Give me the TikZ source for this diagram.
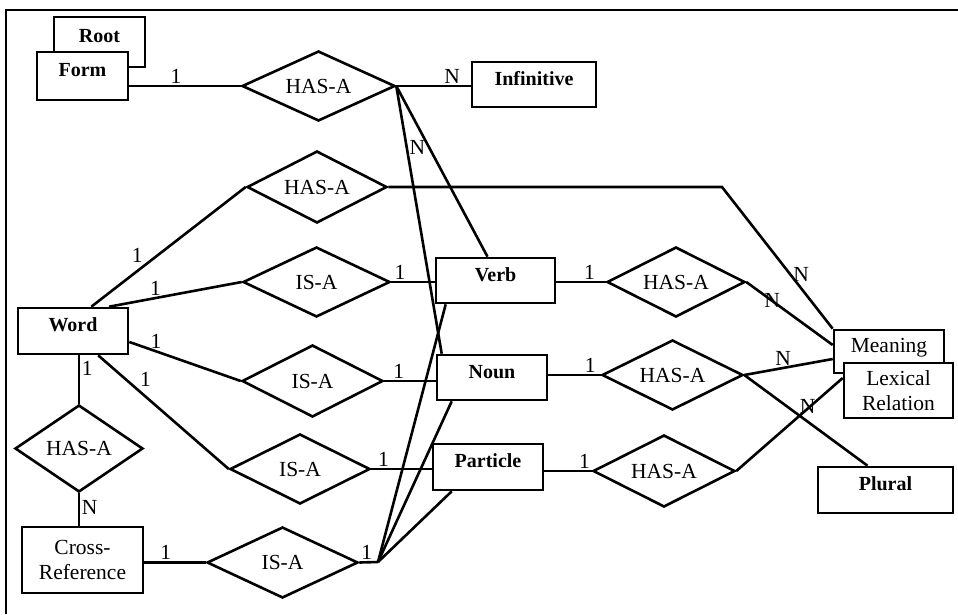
\documentclass[tikz,border=0pt]{standalone}
\usepackage{fontspec}
\setmainfont{Liberation Serif}
\usetikzlibrary{shapes.geometric}
\begin{document}
\begin{tikzpicture}[x=1pt, y=-1pt, line width=2.6pt,
  every node/.style={font=\fontsize{21.5}{25}\selectfont},
  ent/.style={draw, fill=white, inner sep=0pt, text depth=12pt},
  entb/.style={ent, font=\fontsize{20}{24}\selectfont\bfseries},
  entm/.style={draw, fill=white, inner sep=0pt, align=center},
  rel/.style={draw, diamond, shape aspect=2, inner sep=0pt},
  card/.style={inner sep=1.5pt}]
  \useasboundingbox (0,0) rectangle (958,614);
  \draw (6,614) -- (6,10) -- (958,10);
  \node[entb, minimum width=91, minimum height=50] (root) at (99.5,42) {Root};
  \node[entb, minimum width=91, minimum height=48] (form) at (82.5,76) {Form};
  \node[entb, minimum width=124, minimum height=45] (infinitive) at (534,84.5) {Infinitive};
  \node[entb, minimum width=110, minimum height=46] (word) at (73,331) {Word};
  \node[entb, minimum width=119, minimum height=45] (verb) at (495.5,280.5) {Verb};
  \node[entb, minimum width=110, minimum height=45] (noun) at (492,377.5) {Noun};
  \node[entb, minimum width=110, minimum height=46] (particle) at (488,467) {Particle};
  \node[entm, minimum width=121, minimum height=66] (crossref) at (82.5,560) {Cross-\\Reference};
  \node[ent, minimum width=110, minimum height=43] (meaning) at (889,351.5) {Meaning};
  \node[entm, minimum width=109, minimum height=55] (lexrel) at (898.5,390.5) {Lexical\\Relation};
  \node[entb, minimum width=135, minimum height=46] (plural) at (885.5,490) {Plural};
  \node[rel, minimum width=153, minimum height=70] (hasa1) at (318.5,86) {HAS-A};
  \node[rel, minimum width=140, minimum height=72] (hasa2) at (317,187) {HAS-A};
  \node[rel, minimum width=147, minimum height=70] (isa1) at (316.5,282) {IS-A};
  \node[rel, minimum width=141, minimum height=72] (isa2) at (312.5,381) {IS-A};
  \node[rel, minimum width=140, minimum height=70] (isa3) at (300,469) {IS-A};
  \node[rel, minimum width=151, minimum height=71] (isa4) at (282.5,562.5) {IS-A};
  \node[rel, minimum width=128, minimum height=87] (hasa4) at (79,448.5) {HAS-A};
  \node[rel, minimum width=138, minimum height=70] (hasa5) at (676,282) {HAS-A};
  \node[rel, minimum width=141, minimum height=70] (hasa6) at (672.5,375) {HAS-A};
  \node[rel, minimum width=142, minimum height=72] (hasa7) at (664,471) {HAS-A};
  \coordinate (bend) at (722,187);
  \coordinate (isajoin) at (378,562);
  \draw (form.east |- hasa1.west) -- node[card, pos=0.42, above] {1} (hasa1.west);
  \draw (hasa1.east) -- node[card, pos=0.75, above] {N} (hasa1.east -| infinitive.west);
  \draw (hasa1.east) -- ([xshift=-8]verb.north);
  \draw (hasa1.east) -- node[card, pos=0.23, right] {N} ([xshift=6]noun.north west);
  \draw (word.53) -- node[card, pos=0.35, above left] {1} (hasa2.west);
  \draw (hasa2.east) -- (bend) -- node[card, pos=0.62, right] {N} (meaning.north west);
  \draw (word.34) -- node[card, pos=0.35, above] {1} (isa1.west);
  \draw (isa1.east) -- node[card, pos=0.2, above] {1} (isa1.east -| verb.west);
  \draw (word.-11) -- node[card, pos=0.24, above] {1} (isa2.west);
  \draw (isa2.east) -- node[card, pos=0.28, above] {1} (isa2.east -| noun.west);
  \draw (word.-44) -- node[card, pos=0.3, above right] {1} (isa3.west);
  \draw (isa3.east) -- node[card, pos=0.2, above] {1} (isa3.east -| particle.west);
  \draw (hasa4.north |- word.south) -- node[card, pos=0.28, right] {1} (hasa4.north);
  \draw (hasa4.south) -- node[card, pos=0.45, right] {N} (hasa4.south |- crossref.north);
  \draw (crossref.east |- isa4.west) -- node[card, pos=0.35, above] {1} (isa4.west);
  \draw (isa4.east) -- node[card, pos=0.4, above] {1} (isajoin);
  \draw (isajoin) -- ([xshift=11]verb.south west);
  \draw (isajoin) -- ([xshift=16]noun.south west);
  \draw (isajoin) -- ([xshift=20]particle.south west);
  \draw (verb.east |- hasa5.west) -- node[card, pos=0.67, above] {1} (hasa5.west);
  \draw (noun.east |- hasa6.west) -- node[card, pos=0.8, above] {1} (hasa6.west);
  \draw (particle.east |- hasa7.west) -- node[card, pos=0.85, above] {1} (hasa7.west);
  \draw (hasa5.east) -- node[card, pos=0.3] {N} ([yshift=6.5]meaning.west);
  \draw (hasa6.east) -- node[card, pos=0.44, above] {N} ([yshift=-7.5]meaning.west);
  \draw (hasa6.east) -- node[card, pos=0.44, above right, inner sep=0pt] {N} ([xshift=-18]plural.north);
  \draw (hasa7.east) -- ([yshift=12.5]lexrel.west);
\end{tikzpicture}
\end{document}
